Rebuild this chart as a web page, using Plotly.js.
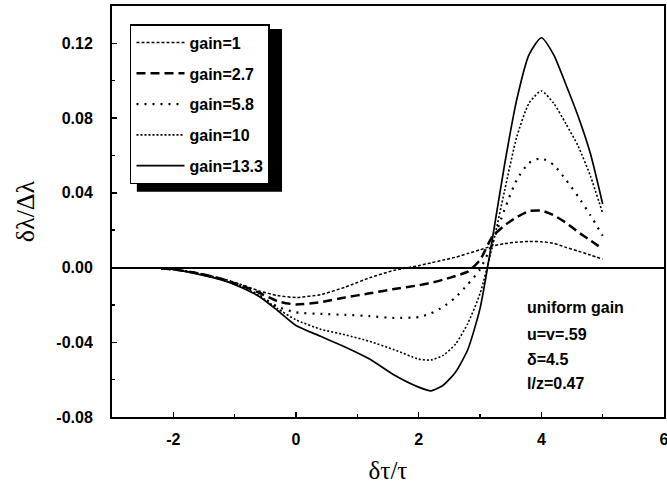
<!DOCTYPE html>
<html>
<head>
<meta charset="utf-8">
<script src="https://cdn.plot.ly/plotly-3.0.1.min.js"></script>
<style>html,body{margin:0;padding:0;background:#fff;}#chart{width:667px;height:490px;}</style>
</head>
<body>
<div id="chart"></div>
<script>
// delay time δτ/τ
const tau = [-2.2, -2.0, -1.6, -1.2, -0.9, -0.6, -0.3, 0.0, 0.4, 0.8, 1.2, 1.6, 2.0, 2.2, 2.4, 2.6, 2.8, 3.0, 3.2, 3.4, 3.6, 3.8, 4.0, 4.2, 4.4, 4.6, 4.8, 5.0];
// δλ/Δλ for each gain
const gain1  = [-0.0005, -0.001, -0.003, -0.006, -0.009, -0.0125, -0.015, -0.016, -0.0145, -0.0105, -0.0055, -0.0015, 0.001, 0.0025, 0.004, 0.0055, 0.0075, 0.0095, 0.0115, 0.0128, 0.0136, 0.014, 0.0138, 0.013, 0.0108, 0.0088, 0.0067, 0.0045];
const gain27 = [-0.0005, -0.001, -0.003, -0.0062, -0.0095, -0.0135, -0.018, -0.0198, -0.0185, -0.016, -0.0138, -0.0115, -0.0095, -0.0082, -0.0065, -0.0045, -0.0022, 0.004, 0.0165, 0.0225, 0.027, 0.0302, 0.0305, 0.028, 0.024, 0.019, 0.0145, 0.010];
const gain58 = [-0.0005, -0.001, -0.003, -0.0065, -0.010, -0.0148, -0.021, -0.024, -0.0248, -0.0253, -0.026, -0.027, -0.0265, -0.0245, -0.021, -0.016, -0.009, -0.001, 0.013, 0.031, 0.047, 0.056, 0.0585, 0.055, 0.047, 0.038, 0.028, 0.017];
const gain10 = [-0.0005, -0.001, -0.0033, -0.0065, -0.010, -0.015, -0.022, -0.028, -0.033, -0.036, -0.0395, -0.0440, -0.049, -0.0495, -0.047, -0.041, -0.030, -0.014, 0.011, 0.041, 0.070, 0.088, 0.0945, 0.088, 0.077, 0.065, 0.049, 0.029];
const gain133= [-0.0005, -0.001, -0.0035, -0.0068, -0.0105, -0.0155, -0.023, -0.031, -0.0368, -0.0425, -0.049, -0.0575, -0.064, -0.066, -0.063, -0.056, -0.044, -0.022, 0.015, 0.055, 0.090, 0.114, 0.123, 0.114, 0.098, 0.081, 0.061, 0.034];

const seriesNames = ['gain=1', 'gain=2.7', 'gain=5.8', 'gain=10', 'gain=13.3'];
const xTickVals = [-2, 0, 2, 4, 6];
const xTickText = ['-2', '0', '2', '4', '6'];
const yTickVals = [-0.08, -0.04, 0.00, 0.04, 0.08, 0.12];
const yTickText = ['-0.08', '-0.04', '0.00', '0.04', '0.08', '0.12'];
const noteLines = ['uniform gain', 'u=v=.59', 'δ=4.5', 'l/z=0.47'];

const series = [gain1, gain27, gain58, gain10, gain133];
const styles = [
  {dash: '3px,2px', width: 1.5},
  {dash: '9px,5px', width: 2.5},
  {dash: '2px,6px', width: 2.2},
  {dash: '2px,2px', width: 1.6},
  {dash: 'solid', width: 1.7}
];

const traces = series.map((ys, i) => ({
  x: tau, y: ys, type: 'scatter', mode: 'lines', name: seriesNames[i],
  legendgroup: 'g' + i,
  line: {color: '#000', width: styles[i].width, dash: styles[i].dash, shape: 'spline', smoothing: 0.6}
}));

const sans = 'Arial, "Liberation Sans", Helvetica, sans-serif';
const serif = '"Liberation Serif", "Times New Roman", "DejaVu Serif", serif';
const txt = {family: sans, size: 16, color: '#000', weight: 'bold'};

const noteY = [0.2676, 0.2019, 0.1411, 0.0827];
const annotations = noteLines.map((t, i) => ({
  text: t, xref: 'paper', yref: 'paper', x: 0.749, y: noteY[i],
  xanchor: 'left', yanchor: 'middle', showarrow: false, font: txt
}));

const layout = {
  width: 667, height: 490,
  margin: {l: 112, r: 3, t: 6, b: 73},
  paper_bgcolor: '#fff', plot_bgcolor: '#fff',
  showlegend: true,
  legend: {
    x: 0.0326, y: 0.956, xanchor: 'left', yanchor: 'top',
    bgcolor: '#fff', bordercolor: '#000', borderwidth: 1.5,
    font: txt, itemwidth: 48, tracegroupgap: 7
  },
  shapes: [
    // legend drop shadow (right and bottom), drawn beneath the legend box
    {type: 'rect', xref: 'paper', yref: 'paper', layer: 'above',
     x0: 0.045, x1: 0.308, y0: 0.548, y1: 0.944,
     fillcolor: '#000', line: {width: 0}}
  ],
  xaxis: {
    range: [-3, 6], showgrid: false, zeroline: false,
    showline: true, linecolor: '#000', linewidth: 2, mirror: true,
    ticks: 'inside', ticklen: 5, tickwidth: 1.5, tickcolor: '#000',
    tickvals: xTickVals, ticktext: xTickText, ticklabeloverflow: 'allow',
    ticklabelstandoff: 7,
    minor: {dtick: 1, ticks: 'inside', ticklen: 3, tickcolor: '#000', showgrid: false},
    tickfont: txt,
    title: {text: 'δτ/τ', font: {family: serif, size: 25, color: '#000'}, standoff: 14}
  },
  yaxis: {
    range: [-0.08, 0.14], showgrid: false,
    zeroline: true, zerolinecolor: '#000', zerolinewidth: 2,
    showline: true, linecolor: '#000', linewidth: 2, mirror: true,
    ticks: 'inside', ticklen: 5, tickwidth: 1.5, tickcolor: '#000',
    tickvals: yTickVals, ticktext: yTickText,
    ticklabelstandoff: 14,
    minor: {dtick: 0.02, ticks: 'inside', ticklen: 3, tickcolor: '#000', showgrid: false},
    tickfont: txt,
    title: {text: 'δλ/Δλ', font: {family: serif, size: 26, color: '#000'}, standoff: 14}
  },
  annotations: annotations
};

Plotly.newPlot('chart', traces, layout, {staticPlot: true});
</script>
</body>
</html>
